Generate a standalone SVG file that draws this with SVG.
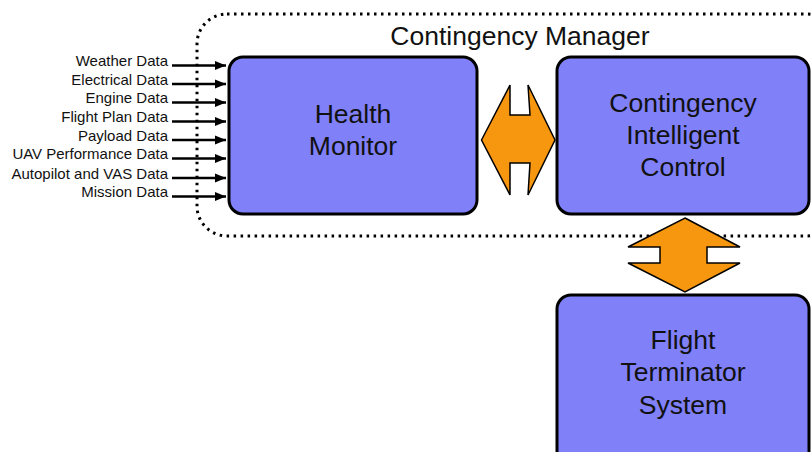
<svg xmlns="http://www.w3.org/2000/svg" width="812" height="452" viewBox="0 0 812 452">
<style>
.box{fill:#8080f8;stroke:#000;stroke-width:3}
.big{font-family:"Liberation Sans",Arial,sans-serif;font-size:26.5px;fill:#111;text-anchor:middle}
.lbl{font-family:"Liberation Sans",Arial,sans-serif;font-size:15px;fill:#111;text-anchor:end}
.in{stroke:#000;stroke-width:2.5;fill:none;marker-end:url(#ah)}
.dbl{fill:#f7960f;stroke:#000;stroke-width:1.5;stroke-linejoin:miter}
</style>
<defs>
<marker id="ah" viewBox="0 0 10 10" refX="10" refY="5" markerWidth="4.4" markerHeight="4.4" markerUnits="strokeWidth" orient="auto">
<path d="M0,1 L10,5 L0,9 Z" fill="#000"/>
</marker>
</defs>
<rect width="812" height="452" fill="#fff"/>
<g id="manager">
<rect x="197" y="14" width="640" height="222" rx="30" fill="none" stroke="#000" stroke-width="3" stroke-dasharray="2.5 4.5"/>
<text class="big" x="520" y="45">Contingency Manager</text>
</g>
<g id="connectors">
<path class="in" d="M172,65.5 H226"/>
<path class="in" d="M172,84 H226"/>
<path class="in" d="M172,102.5 H226"/>
<path class="in" d="M172,121.5 H226"/>
<path class="in" d="M172,140 H226"/>
<path class="in" d="M172,158.5 H226"/>
<path class="in" d="M172,178 H226"/>
<path class="in" d="M172,196.5 H226"/>
<path class="dbl" d="M481.5,140 L510,85 L510,115 L530,115 L528,85 L555,140 L528,195 L530,163 L510,163 L510,195 Z"/>
<path class="dbl" d="M685,218 L740,247 L707,247 L707,263 L740,263 L685,292 L628,263 L660,263 L660,247 L628,247 Z"/>
</g>
<g id="labels">
<text class="lbl" x="168" y="66">Weather Data</text>
<text class="lbl" x="168" y="84.5">Electrical Data</text>
<text class="lbl" x="168" y="103">Engine Data</text>
<text class="lbl" x="168" y="122">Flight Plan Data</text>
<text class="lbl" x="168" y="140.5">Payload Data</text>
<text class="lbl" x="168" y="159">UAV Performance Data</text>
<text class="lbl" x="168" y="178.5">Autopilot and VAS Data</text>
<text class="lbl" x="168" y="197">Mission Data</text>
</g>
<g id="health">
<rect class="box" x="229" y="57" width="248" height="157" rx="14"/>
<text class="big" x="353" y="123">Health</text>
<text class="big" x="353" y="155">Monitor</text>
</g>
<g id="cic">
<rect class="box" x="557" y="57" width="252" height="157" rx="14"/>
<text class="big" x="683" y="111.5">Contingency</text>
<text class="big" x="683" y="143.5">Intelligent</text>
<text class="big" x="683" y="175.5">Control</text>
</g>
<g id="fts">
<rect class="box" x="557" y="295" width="252" height="170" rx="14"/>
<text class="big" x="683" y="348.5">Flight</text>
<text class="big" x="683" y="381">Terminator</text>
<text class="big" x="683" y="413.5">System</text>
</g>
</svg>
